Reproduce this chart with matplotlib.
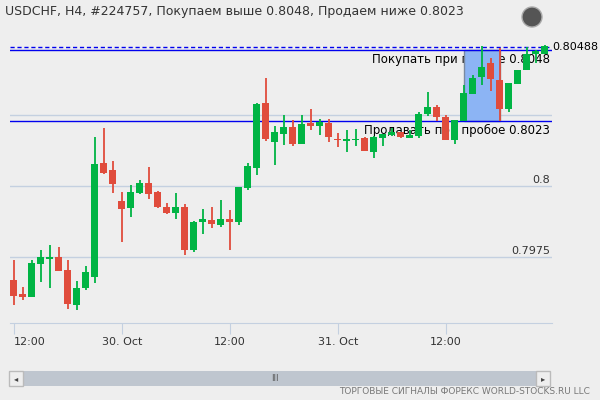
import matplotlib
matplotlib.use("Agg")
import matplotlib.pyplot as plt
from matplotlib.patches import Rectangle, Circle

plt.rcParams["font.family"] = ["DejaVu Sans"]

# H4 candles
opens = [0.79669, 0.79620, 0.79609, 0.79727, 0.79744, 0.79750, 0.79704, 0.79581, 0.79641, 0.79681,
         0.80081, 0.80056, 0.79947, 0.79923, 0.79975, 0.80011, 0.79979, 0.79926, 0.79905, 0.79926,
         0.79775, 0.79873, 0.79880, 0.79863, 0.79884, 0.79873, 0.79993, 0.80063, 0.80292, 0.80155,
         0.80183, 0.80208, 0.80149, 0.80221, 0.80212, 0.80221, 0.80164, 0.80157, 0.80161, 0.80169,
         0.80121, 0.80170, 0.80181, 0.80191, 0.80170, 0.80176, 0.80253, 0.80277, 0.80242, 0.80161,
         0.80229, 0.80325, 0.80385, 0.80432, 0.80373, 0.80271, 0.80359, 0.80408, 0.80465, 0.80465]
highs = [0.79740, 0.79645, 0.79740, 0.79775, 0.79792, 0.79785, 0.79740, 0.79666, 0.79718, 0.80172,
         0.80204, 0.80088, 0.79979, 0.80004, 0.80021, 0.80067, 0.79982, 0.79940, 0.79975, 0.79937,
         0.79877, 0.79919, 0.79926, 0.79951, 0.79916, 0.79996, 0.80081, 0.80292, 0.80380, 0.80211,
         0.80250, 0.80232, 0.80250, 0.80271, 0.80235, 0.80235, 0.80185, 0.80197, 0.80199, 0.80174,
         0.80176, 0.80183, 0.80203, 0.80191, 0.80197, 0.80262, 0.80332, 0.80285, 0.80250, 0.80232,
         0.80355, 0.80391, 0.80494, 0.80449, 0.80484, 0.80361, 0.80408, 0.80490, 0.80479, 0.80496]
lows = [0.79581, 0.79599, 0.79609, 0.79662, 0.79641, 0.79701, 0.79567, 0.79564, 0.79634, 0.79659,
        0.80042, 0.79975, 0.79803, 0.79891, 0.79972, 0.79954, 0.79923, 0.79901, 0.79884, 0.79757,
        0.79768, 0.79831, 0.79852, 0.79856, 0.79775, 0.79863, 0.79986, 0.80039, 0.80158, 0.80074,
        0.80144, 0.80141, 0.80149, 0.80197, 0.80180, 0.80156, 0.80136, 0.80121, 0.80142, 0.80124,
        0.80097, 0.80142, 0.80176, 0.80168, 0.80170, 0.80168, 0.80246, 0.80230, 0.80161, 0.80147,
        0.80229, 0.80325, 0.80355, 0.80336, 0.80230, 0.80262, 0.80359, 0.80408, 0.80434, 0.80465]
closes = [0.79614, 0.79611, 0.79729, 0.79750, 0.79750, 0.79701, 0.79586, 0.79641, 0.79697, 0.80077,
          0.80046, 0.80007, 0.79919, 0.79979, 0.80011, 0.79972, 0.79926, 0.79905, 0.79926, 0.79775,
          0.79873, 0.79884, 0.79866, 0.79884, 0.79873, 0.79996, 0.80070, 0.80289, 0.80165, 0.80190,
          0.80208, 0.80148, 0.80217, 0.80212, 0.80224, 0.80174, 0.80161, 0.80165, 0.80165, 0.80124,
          0.80174, 0.80183, 0.80191, 0.80174, 0.80178, 0.80253, 0.80277, 0.80242, 0.80161, 0.80232,
          0.80326, 0.80379, 0.80418, 0.80375, 0.80271, 0.80361, 0.80408, 0.80465, 0.80475, 0.80493]

tick_idx = [0, 12, 24, 36, 48]
tick_labels = ["12:00", "30. Oct", "12:00", "31. Oct", "12:00"]
grid_levels = [0.7975, 0.8, 0.8025]
grid_labels = ["0.7975", "0.8", ""]
buy_level = 0.8048
sell_level = 0.8023
last_level = 0.80488
box_start, box_end = 50, 54

BG = "#eeeeee"
UP = "#00b444"
DOWN = "#e04c3c"
LINE = "#0000ee"

fig = plt.figure(figsize=(6, 4), dpi=100, facecolor=BG)
ax = fig.add_axes([10 / 600, 77 / 400, 542 / 600, 293 / 400])
ax.set_facecolor(BG)
for s in ax.spines.values():
    s.set_visible(False)
ax.set_xlim(-0.44, 59.8)
ax.set_ylim(0.79518, 0.80549)
ax.set_yticks([])

for lvl, lab in zip(grid_levels, grid_labels):
    ax.axhline(lvl, color="#c4d0e0", lw=1, zorder=0)
    ax.text(59.6, lvl + 0.00004, lab, ha="right", va="bottom", fontsize=8, color="#333333")

ax.text(59.6, buy_level - 0.00012, "Покупать при пробое 0.8048", ha="right", va="top",
        fontsize=8.5, zorder=1)
ax.text(59.6, sell_level - 0.00012, "Продавать при пробое 0.8023", ha="right", va="top",
        fontsize=8.5, zorder=1)

ax.add_patch(Rectangle((box_start, sell_level), box_end - box_start, buy_level - sell_level,
                       facecolor="#8cb4f4", edgecolor="#7a8aa0", lw=1, zorder=2))

ax.axhline(buy_level, color=LINE, lw=1, zorder=3)
ax.axhline(sell_level, color=LINE, lw=1, zorder=3)
ax.axhline(last_level, color=LINE, lw=1, ls=(0, (3, 2)), zorder=3)
ax.text(59.85, last_level, "0.80488", ha="left", va="center", fontsize=8, clip_on=False)

w = 0.78
for i, (o, h, l, c) in enumerate(zip(opens, highs, lows, closes)):
    col = UP if c >= o else DOWN
    ax.vlines(i, l, h, color=col, lw=1.3, zorder=4)
    lo, hi = min(o, c), max(o, c)
    ax.add_patch(Rectangle((i - w / 2, lo), w, max(hi - lo, 0.00003), facecolor=col,
                           edgecolor="none", zorder=5))

ax.set_xticks(tick_idx)
ax.set_xticklabels(tick_labels)
ax.tick_params(axis="x", length=8, color="#c4d0e0", labelsize=8, labelcolor="#333333", pad=2)
ax.spines["bottom"].set_visible(True)
ax.spines["bottom"].set_color("#c4d0e0")
ax.get_xticklabels()[0].set_horizontalalignment("left")

fig.text(5 / 600, 1 - 12 / 400, "USDCHF, H4, #224757, Покупаем выше 0.8048, Продаем ниже 0.8023",
         fontsize=9, va="center", color="#333333")

# globe icon
fig.patches.append(Circle((532, 400 - 17), 10, transform=None, facecolor="#555555",
                          edgecolor="#aaaaaa", lw=1))

# scrollbar
fig.patches.append(Rectangle((9, 14), 541, 15, transform=None, facecolor="#bfc6cf", edgecolor="none"))
fig.patches.append(Rectangle((9, 14), 14, 15, transform=None, facecolor="#eeeeee", edgecolor="#bbbbbb"))
fig.patches.append(Rectangle((536, 14), 14, 15, transform=None, facecolor="#eeeeee", edgecolor="#bbbbbb"))
fig.text(16 / 600, 21.5 / 400, "◂", ha="center", va="center", fontsize=6, color="#444444")
fig.text(543 / 600, 21.5 / 400, "▸", ha="center", va="center", fontsize=6, color="#444444")
fig.text(275 / 600, 21.5 / 400, "III", ha="center", va="center", fontsize=6, color="#555555")

fig.text(590 / 600, 1 - 391 / 400, "ТОРГОВЫЕ СИГНАЛЫ ФОРЕКС WORLD-STOCKS.RU LLC", ha="right",
         va="center", fontsize=6.5, color="#777777")

fig.savefig("out.png", dpi=100, facecolor=BG)
